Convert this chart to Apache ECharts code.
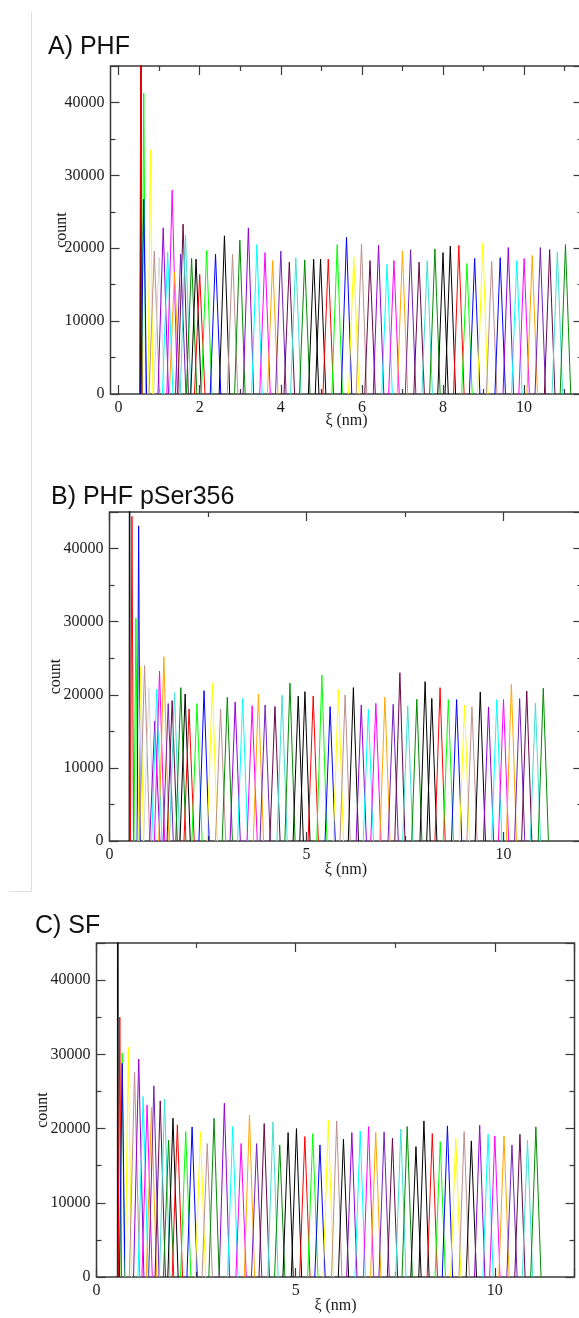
<!DOCTYPE html>
<html><head><meta charset="utf-8">
<script src="https://cdn.jsdelivr.net/npm/echarts@6/dist/echarts.min.js"></script>
<style>html,body{margin:0;padding:0;background:#fff}#c{width:579px;height:1318px}</style>
</head><body><div id="c"></div>
<script>
// ---------- DATA ----------
const titles = ['A) PHF', 'B) PHF pSer356', 'C) SF'];
const yMax = 45000, yStep = 10000;          // count axis
const aXRange = [-0.2, 11.44], aXStep = 2;  // panel A ξ axis (labels 0..10)
const bcXRange = [0, 12], bcXStep = 5;      // panels B, C ξ axis (labels 0, 5, 10)

// Panel A: window peak centres (nm), peak counts, colours
const aCenters = [0.55,0.55,0.62,0.62,0.785,0.88,1.0,1.1,1.21,1.32,1.38,1.53,1.59,1.65,1.80,1.91,2.0,2.17,2.39,2.61,2.81,2.99,3.2,3.41,3.61,3.8,4.0,4.21,4.37,4.59,4.81,4.98,5.17,5.39,5.62,5.80,5.99,6.2,6.41,6.62,6.79,7.0,7.2,7.41,7.61,7.80,8.0,8.18,8.39,8.59,8.78,8.98,9.20,9.41,9.61,9.82,10.0,10.2,10.4,10.63,10.82,11.02];
const aHeights = [120000,47000,41300,26700,33500,19600,18800,22800,19500,27950,16750,19200,23300,21800,18600,18500,16400,19700,19200,21700,19200,21100,22800,20500,19400,18300,19600,18100,18700,18400,18500,18500,18500,20500,21500,18800,20600,18300,20400,17800,18300,19600,19800,18100,18300,19900,19400,20300,20400,17900,18600,20700,18200,18700,20100,18300,18600,19000,20100,19800,19500,20500];
const aColors = ['k','r','g','b','y','br','gr','v','c','m','o','i','mr','t','dg','k','r','g','b','k','br','dg','v','c','m','o','i','mr','t','dg','k','k','r','g','b','y','br','mr','v','c','m','o','i','mr','t','dg','k','k','r','g','b','y','br','b','v','c','m','o','i','mr','t','dg'];
const aNarrow = [0.012,0.035,0.05,0.07,0.06];

// Panel B
const bCenters = [0.51,0.57,0.67,0.74,0.79,0.89,1.0,1.15,1.2,1.27,1.38,1.49,1.59,1.65,1.81,1.92,2.02,2.22,2.40,2.61,2.82,2.99,3.19,3.38,3.62,3.78,3.95,4.2,4.38,4.58,4.79,4.96,5.17,5.39,5.6,5.81,5.98,6.19,6.39,6.57,6.76,6.99,7.2,7.37,7.57,7.8,8.01,8.18,8.39,8.6,8.81,9.01,9.2,9.41,9.62,9.83,10.0,10.2,10.41,10.59,10.81,11.01];
const bHeights = [120000,44400,30470,43100,23850,24000,20970,16400,20800,23250,25200,18800,19200,20300,20970,20100,18050,18800,20560,21570,18050,19650,19000,19500,18500,20100,18600,18400,19950,21600,19800,20430,19840,22700,18370,20750,19970,20980,18600,18010,18830,19650,18700,23020,18500,19380,21800,19500,20980,19340,19340,18570,18340,20390,18340,19340,19340,21430,19480,20520,18830,20890];
const bColors = ['k','r','g','b','y','br','gr','v','c','m','o','i','mr','t','dg','k','r','g','b','y','br','dg','v','c','m','o','i','mr','t','dg','k','k','r','g','b','y','br','k','v','c','m','o','i','mr','t','dg','k','k','r','g','b','y','br','k','v','c','m','o','i','mr','t','dg'];
const bNarrow = [0.012,0.04,0.05,0.04,0.07];

// Panel C
const cCenters = [0.535,0.585,0.645,0.645,0.80,0.955,1.06,1.17,1.27,1.38,1.44,1.6,1.71,1.81,1.92,2.03,2.24,2.4,2.61,2.78,2.95,3.21,3.42,3.63,3.84,4.02,4.21,4.43,4.6,4.81,5.02,5.23,5.43,5.61,5.82,6.03,6.2,6.41,6.62,6.83,7.01,7.22,7.43,7.64,7.8,8.02,8.22,8.43,8.63,8.81,9.02,9.23,9.41,9.62,9.83,10.0,10.23,10.43,10.63,10.82,11.03];
const cHeights = [150000,35000,30180,28780,30950,27570,29360,24320,23150,22840,25760,23730,23960,18420,21390,20490,19590,20220,19590,17970,21390,23420,20270,17990,21840,17970,20670,20900,17790,19460,20000,18920,19320,17790,21120,21030,18550,19460,19680,20270,19460,19550,18690,19910,20270,17570,21030,19320,18240,20360,18690,19590,18330,20450,19230,19010,19010,17790,19230,18460,20230];
const cColors = ['k','r','g','b','y','br','v','c','m','o','i','mr','t','dg','k','r','g','b','y','br','dg','v','c','m','o','i','mr','t','dg','k','k','r','g','b','y','br','k','v','c','m','o','i','mr','t','dg','k','k','r','g','b','y','br','k','v','c','m','o','i','mr','t','dg'];
const cNarrow = [0.012,0.04,0.06,0.07,0.08];

// ---------- STYLE ----------
const PAL = {k:'#000000', r:'#ff0000', g:'#00ff00', b:'#0000ff', y:'#ffff00', br:'#bc8f8f', gr:'#d8d8d8', v:'#9400d3', c:'#00ffff', m:'#ff00ff', o:'#ffa500', i:'#7221bc', mr:'#670748', t:'#40e0d0', dg:'#008b00'};
const HW = 0.13;
const FRAME = '#3a3a3a';
const labelFont = {fontFamily:'Liberation Serif', fontSize:16, color:'#1a1a1a'};
const tickStyle = {color:FRAME, width:1.2};

const panels = [
  {grid:{left:110.5, top:66, width:472, height:328}, xr:aXRange, xs:aXStep, yGap:41, xGap:19,
   centers:aCenters, heights:aHeights, colors:aColors, narrow:aNarrow, title:{x:48, y:47.5}},
  {grid:{left:109.5, top:512, width:472.8, height:329}, xr:bcXRange, xs:bcXStep, yGap:46, xGap:21,
   centers:bCenters, heights:bHeights, colors:bColors, narrow:bNarrow, title:{x:51, y:497.5}},
  {grid:{left:96.5, top:943, width:478, height:334}, xr:bcXRange, xs:bcXStep, yGap:46, xGap:21,
   centers:cCenters, heights:cHeights, colors:cColors, narrow:cNarrow, title:{x:35, y:926}}
];

const grids = [], xAxes = [], yAxes = [], series = [], graphics = [];
const noLine = {show:false, onZero:false};

function tickedAxis(extra, min, max, step, labels, labelMax) {
  return Object.assign({
    type:'value', min:min, max:max, interval:step,
    axisLine:noLine, splitLine:{show:false},
    axisTick:{show:true, inside:true, length:9, lineStyle:tickStyle},
    minorTick:{show:true, splitNumber:2, length:5, lineStyle:tickStyle},
    axisLabel:{show:labels, margin:6, formatter:v => (v <= labelMax + 1e-9 && Math.abs(v / step - Math.round(v / step)) < 1e-9) ? String(v) : '', ...labelFont}
  }, extra);
}

panels.forEach((P, p) => {
  grids.push(Object.assign({show:true, borderColor:FRAME, borderWidth:1.5, backgroundColor:'transparent', outerBoundsMode:'none', containLabel:false}, P.grid));
  let xData;
  const nameBits = {name:'ξ (nm)', nameLocation:'middle', nameGap:P.xGap, nameMoveOverlap:false, nameTextStyle:{...labelFont}};
  xData = xAxes.length;
  if (P.xr[0] % P.xs === 0) {
    xAxes.push(tickedAxis(Object.assign({gridIndex:p, position:'bottom'}, nameBits), P.xr[0], P.xr[1], P.xs, true, 10));
    xAxes.push(tickedAxis({gridIndex:p, position:'top'}, P.xr[0], P.xr[1], P.xs, false, 10));
  } else {
    // data axis (ticks drawn by the companion tick grid below)
    xAxes.push(Object.assign({type:'value', gridIndex:p, position:'bottom', min:P.xr[0], max:P.xr[1],
      axisLine:noLine, axisTick:{show:false}, axisLabel:{show:false}, splitLine:{show:false}}, nameBits));
  }
  const yData = yAxes.length;
  yAxes.push(tickedAxis({gridIndex:p, position:'left', name:'count', nameLocation:'middle', nameGap:P.yGap,
    nameRotate:90, nameMoveOverlap:false, nameTextStyle:{...labelFont}}, 0, yMax, yStep, true, 40000));
  yAxes.push(tickedAxis({gridIndex:p, position:'right'}, 0, yMax, yStep, false, 40000));

  P.centers.forEach((c, i) => {
    const w = i < P.narrow.length ? P.narrow[i] : HW;
    series.push({
      type:'line', xAxisIndex:xData, yAxisIndex:yData,
      data:[[c - w, 0], [c, P.heights[i]], [c + w, 0]],
      symbol:'none', showSymbol:false, silent:true, animation:false,
      lineStyle:{width:1, color:PAL[P.colors[i]]}
    });
  });
  graphics.push({type:'text', x:P.title.x, y:P.title.y, silent:true,
    style:{text:titles[p], font:'25px "Liberation Sans"', fill:'#111', verticalAlign:'middle', align:'left'}});
});

// Panel A tick grid: same scale as panel A, starting at ξ = 0 so ticks count from a multiple of the step
(function () {
  const g = panels[0].grid, pxPerNm = g.width / (aXRange[1] - aXRange[0]);
  const gi = grids.length;
  grids.push({show:false, outerBoundsMode:'none', containLabel:false,
    left:g.left - aXRange[0] * pxPerNm, top:g.top, width:aXRange[1] * pxPerNm, height:g.height});
  xAxes.push(tickedAxis({gridIndex:gi, position:'bottom'}, 0, aXRange[1], aXStep, true, 10));
  xAxes.push(tickedAxis({gridIndex:gi, position:'top'}, 0, aXRange[1], aXStep, false, 10));
  yAxes.push({type:'value', gridIndex:gi, show:false, min:0, max:1});
})();

// screenshot frame line at left
graphics.push({type:'polyline', silent:true, shape:{points:[[31.5,12],[31.5,891.5],[9,891.5]]}, style:{stroke:'#dedede', lineWidth:1, fill:null}});

const chart = echarts.init(document.getElementById('c'), null, {renderer:'canvas'});
chart.setOption({animation:false, grid:grids, xAxis:xAxes, yAxis:yAxes, series:series, graphic:graphics});
</script></body></html>
